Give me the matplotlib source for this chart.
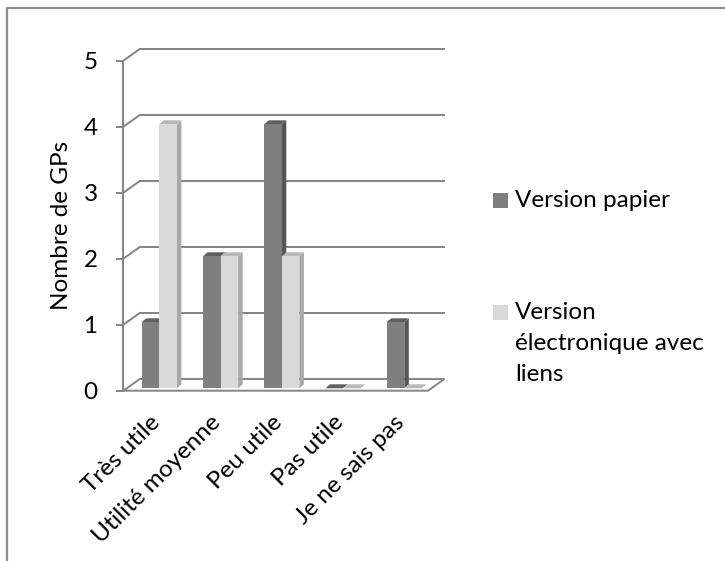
import matplotlib
matplotlib.use('Agg')
import matplotlib.pyplot as plt
from matplotlib.patches import Polygon, Rectangle
from matplotlib.lines import Line2D

# Data
categories = ['Très utile', 'Utilité moyenne', 'Peu utile', 'Pas utile', 'Je ne sais pas']
papier = [1, 2, 4, 0, 1]
electronique = [4, 2, 2, 0, 0]
legend_papier = ['Version papier']
legend_electro = ['Version', 'électronique avec', 'liens']
yticks = [0, 1, 2, 3, 4, 5]

# Colours (front, side, top)
dark = ('#7f7f7f', '#565656', '#606060')
light = ('#d9d9d9', '#a8a8a8', '#b8b8b8')
grid_c = '#868686'
fs = 17.5

plt.rcParams['font.family'] = ['Lato', 'DejaVu Sans']
plt.rcParams['text.color'] = '#000000'

W, H = 725, 561
fig = plt.figure(figsize=(W / 100, H / 100), dpi=100)

# front plane of the 3-D box, in pixels
x0, x1 = 123.3, 428.0
y0, y1 = 390.7, 60.7
ax = fig.add_axes([x0 / W, 1 - y0 / H, (x1 - x0) / W, (y0 - y1) / H])
px_cat = 61.25   # pixels between categories
c0 = 159.3       # pixel position of the first category
ax.set_xlim((x0 - c0) / px_cat, (x1 - c0) / px_cat)
ax.set_ylim(0, 5)
xmin, xmax = ax.get_xlim()

ppu = (y0 - y1) / 5
wall_dx, wall_dy = 16.5 / px_cat, 11.7 / ppu
bar_dx, bar_dy = 4.5 / px_cat, 4.0 / ppu
base = 2.4 / ppu
bw = 17.6 / px_cat
lw = 1.44

# floor
floor = Polygon([(xmin, 0), (xmax, 0), (xmax + wall_dx, wall_dy), (xmin + wall_dx, wall_dy)],
                closed=True, facecolor='white', edgecolor=grid_c, lw=lw,
                zorder=0.5, clip_on=False)
ax.add_patch(floor)

# back wall gridlines and side wall diagonals
for v in yticks[1:]:
    ax.add_line(Line2D([xmin + wall_dx, xmax + wall_dx], [v + wall_dy, v + wall_dy],
                       color=grid_c, lw=lw, zorder=1, clip_on=False))
    ax.add_line(Line2D([xmin, xmin + wall_dx], [v, v + wall_dy],
                       color=grid_c, lw=lw, zorder=1, clip_on=False))


def bar3d(xl, v, cols):
    xr = xl + bw
    top = base + v
    ax.add_patch(Polygon([(xr, base), (xr + bar_dx, base + bar_dy),
                          (xr + bar_dx, top + bar_dy), (xr, top)],
                         closed=True, facecolor=cols[1], edgecolor='none',
                         zorder=2, clip_on=False))
    ax.add_patch(Polygon([(xl, top), (xr, top), (xr + bar_dx, top + bar_dy),
                          (xl + bar_dx, top + bar_dy)],
                         closed=True, facecolor=cols[2], edgecolor='none',
                         zorder=2, clip_on=False))
    ax.bar(xl, v, width=bw, bottom=base, align='edge', color=cols[0],
           edgecolor='none', zorder=2, clip_on=False)


for i in range(len(categories)):
    bar3d(i - bw, papier[i], dark)
    bar3d(i, electronique[i], light)

# axes styling
for s in ['top', 'right', 'bottom']:
    ax.spines[s].set_visible(False)
ax.spines['left'].set_color(grid_c)
ax.spines['left'].set_linewidth(lw)
ax.spines['left'].set_zorder(3)
ax.set_yticks(yticks)
ax.tick_params(axis='y', direction='out', length=5, width=lw, color=grid_c,
               pad=13.5, labelsize=fs)
ax.set_xticks([])

for i, cat in enumerate(categories):
    ax.text(i - 3 / px_cat, -28 / ppu, cat, rotation=45, ha='right', va='center',
            rotation_mode='anchor', fontsize=fs, clip_on=False)

fig.text(61 / W, 1 - 225 / H, 'Nombre de GPs', rotation=90, ha='center',
         va='center', fontsize=fs)

# legend
fig.add_artist(Rectangle((493 / W, 1 - 208 / H), 15 / W, 15 / H,
                         transform=fig.transFigure, facecolor=dark[0], edgecolor='none'))
fig.add_artist(Rectangle((493 / W, 1 - 320 / H), 15 / W, 15 / H,
                         transform=fig.transFigure, facecolor=light[0], edgecolor='none'))
fig.text(515 / W, 1 - 207 / H, legend_papier[0], va='baseline', fontsize=fs)
for k, line in enumerate(legend_electro):
    fig.text(515 / W, 1 - (319 + 31 * k) / H, line, va='baseline', fontsize=fs)

# chart border
fig.add_artist(Line2D([7 / W, 7 / W, 1], [0, 1 - 8 / H, 1 - 8 / H],
                      transform=fig.transFigure, color='#8e8e8e', lw=1.6))

fig.savefig('out.png', dpi=100)
